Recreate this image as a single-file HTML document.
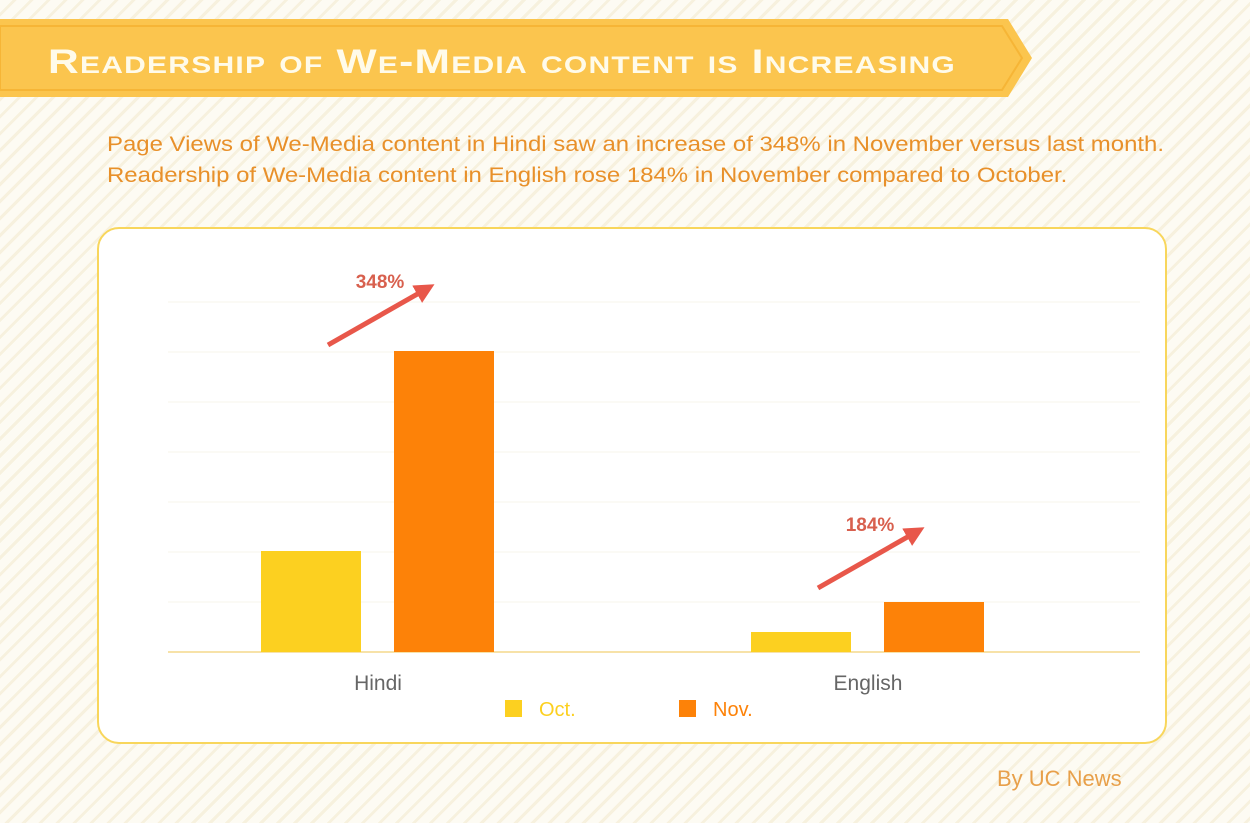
<!DOCTYPE html>
<html><head><meta charset="utf-8"><style>
html,body{margin:0;padding:0}
body{width:1250px;height:823px;overflow:hidden;position:relative;font-family:"Liberation Sans",sans-serif;
background:repeating-linear-gradient(135deg,#fdfbf3 0 9px,#f7f1de 9px 12px);}
.banner{position:absolute;left:0;top:0}
.sub{position:absolute;left:107px;color:#e8902a;font-size:21px;white-space:nowrap;transform-origin:0 0;transform:scaleX(1.14)}
.card{position:absolute;left:97px;top:227px;width:1066px;height:513px;border:2px solid #f8d65c;border-radius:22px;background:#fff}
.by{position:absolute;left:997px;top:766px;color:#e8a04a;font-size:22px}
</style></head><body>
<svg class="banner" width="1060" height="110">
<polygon points="0,19 1008,19 1032,58 1008,97 0,97" fill="#fbc54e"/>
<polygon points="0,26 1002,26 1022,58 1002,90 0,90" fill="none" stroke="#f6b536" stroke-width="2"/>
<text x="48" y="73" fill="#fffbea" font-family="Liberation Sans Narrow, Liberation Sans, sans-serif" font-weight="bold" font-size="34" style="font-variant:small-caps;letter-spacing:1px" textLength="908" lengthAdjust="spacingAndGlyphs">Readership of We-Media content is Increasing</text>
</svg>
<div class="sub" style="top:133px">Page Views of We-Media content in Hindi saw an increase of 348% in November versus last month.</div>
<div class="sub" style="top:164px">Readership of We-Media content in English rose 184% in November compared to October.</div>
<div class="card"></div>
<svg id="chart" width="1250" height="823" style="position:absolute;left:0;top:0"></svg>
<div class="by">By UC News</div>
<script>
const categories=["Hindi","English"];
const octValues=[2.02,0.4];
const novValues=[6.02,1.0];
const growthLabels=["348%","184%"];
const gridTicks=[1,2,3,4,5,6,7];
const svg=document.getElementById('chart');const NS="http://www.w3.org/2000/svg";
function y(v){return 652-v*50;}
function cx(i){return 378+i*490;}
function mk(t,a,p){const e=document.createElementNS(NS,t);for(const k in a)e.setAttribute(k,a[k]);(p||svg).appendChild(e);return e;}
gridTicks.forEach(t=>{const l=mk('line',{x1:168,x2:1140,y1:y(t),y2:y(t),stroke:'#faf8f2','stroke-width':1.5});

});
const base=mk('line',{x1:168,x2:1140,y1:652,y2:652,stroke:'#f7e2a8','stroke-width':2});


mk('defs',{}).innerHTML='<marker id="ah" markerWidth="4" markerHeight="4" refX="2.5" refY="2" orient="auto" markerUnits="strokeWidth"><path d="M0,0 L4,2 L0,4 z" fill="#e8574a"/></marker>';
categories.forEach((c,i)=>{
 const o=mk('rect',{x:cx(i)-117,y:y(octValues[i]),width:100,height:652-y(octValues[i]),fill:'#fcd020'});
 
 
 const n=mk('rect',{x:cx(i)+16,y:y(novValues[i]),width:100,height:652-y(novValues[i]),fill:'#fd8208'});
 
 
 const t=mk('text',{x:cx(i),y:690,'text-anchor':'middle','font-size':21,fill:'#666'});t.textContent=c;
 
 
 const ty=y(novValues[i])-(i?14:6);
 const a=mk('line',{x1:cx(i)-50,y1:ty,x2:cx(i)+50,y2:ty-57,stroke:'#e8574a','stroke-width':5,'marker-end':'url(#ah)'});
 
 
 const g=mk('text',{x:cx(i)+2,y:ty-57,'text-anchor':'middle','font-size':19,'font-weight':'bold',fill:'#d8604e'});g.textContent=growthLabels[i];
 
 
});
const legend=[["Oct.","#fcd020",505],["Nov.","#fd8208",679]];
legend.forEach(l=>{
 const r=mk('rect',{x:l[2],y:700,width:17,height:17,fill:l[1]});
 
 
 const t=mk('text',{x:l[2]+34,y:716,'font-size':20,fill:l[1]});t.textContent=l[0];
 
 
});
</script>
</body></html>
